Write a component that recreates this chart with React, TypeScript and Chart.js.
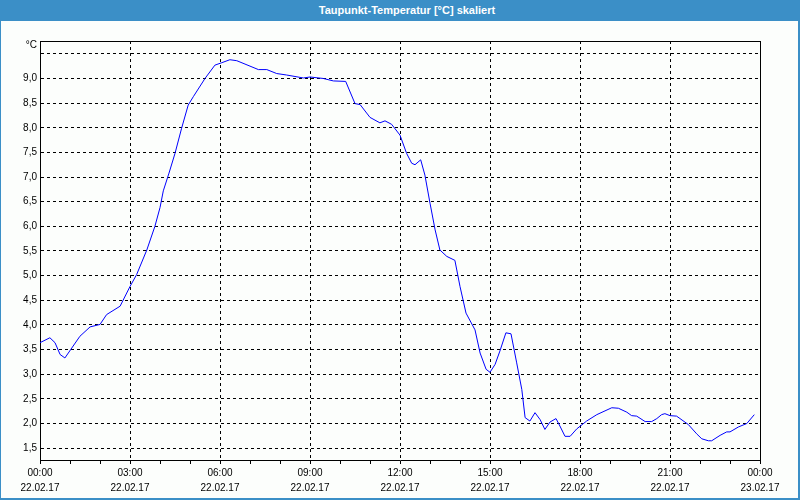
import React, { useEffect, useRef } from "react";
import { Chart, registerables } from "chart.js";

Chart.register(...registerables);

// Time of each reading, in hours since 22.02.17 00:00
const hours = [
  0.0, 0.33, 0.5, 0.67, 0.83, 1.33, 1.67, 2.0, 2.22, 2.67, 3.0, 3.22, 3.56, 3.83, 4.0, 4.11,
  4.3, 4.5, 4.72, 4.94, 5.11, 5.5, 5.83, 6.06, 6.33, 6.56, 7.0, 7.28, 7.56, 7.89, 8.22, 8.78, 9.0,
  9.44, 9.78, 10.19, 10.5, 10.67, 11.0, 11.33, 11.5, 11.72, 12.0, 12.22, 12.39, 12.5, 12.69,
  12.83, 13.0, 13.17, 13.33, 13.56, 13.83, 14.0, 14.2, 14.5, 14.67, 14.87, 15.0, 15.17, 15.33,
  15.53, 15.7, 15.89, 16.06, 16.17, 16.33, 16.5, 16.67, 16.83, 17.0, 17.2, 17.33, 17.5, 17.67,
  17.89, 18.22, 18.56, 19.06, 19.28, 19.56, 19.72, 19.89, 20.17, 20.39, 20.56, 20.72, 20.83,
  21.0, 21.22, 21.61, 21.89, 22.06, 22.28, 22.39, 22.67, 22.89, 23.0, 23.28, 23.56, 23.81,
];

// Dew point temperature in °C
const dewPoint = [
  3.64, 3.74, 3.64, 3.4, 3.33, 3.77, 3.96, 4.01, 4.21, 4.38, 4.78, 5.02, 5.52, 6.0, 6.38, 6.72,
  7.08, 7.48, 7.99, 8.46, 8.63, 9.0, 9.27, 9.32, 9.38, 9.36, 9.25, 9.18, 9.18, 9.1, 9.07, 9.01, 9.03,
  9.0, 8.95, 8.94, 8.49, 8.47, 8.21, 8.1, 8.14, 8.07, 7.85, 7.48, 7.28, 7.25, 7.35,
  7.04, 6.47, 5.93, 5.52, 5.39, 5.31, 4.78, 4.24, 3.9, 3.43, 3.1, 3.04, 3.2, 3.47,
  3.84, 3.82, 3.23, 2.69, 2.12, 2.05, 2.22, 2.08, 1.88, 2.03, 2.1, 1.95, 1.74, 1.74,
  1.89, 2.05, 2.18, 2.32, 2.31, 2.23, 2.16, 2.15, 2.04, 2.04, 2.1, 2.18, 2.2,
  2.16, 2.15, 1.98, 1.79, 1.69, 1.65, 1.65, 1.76, 1.83, 1.83, 1.93, 2.0, 2.18,
];

const yTicks = [1.5, 2.0, 2.5, 3.0, 3.5, 4.0, 4.5, 5.0, 5.5, 6.0, 6.5, 7.0, 7.5, 8.0, 8.5, 9.0, 9.5];
const timeLabels = ["00:00", "03:00", "06:00", "09:00", "12:00", "15:00", "18:00", "21:00", "00:00"];
const dateLabels = ["22.02.17", "22.02.17", "22.02.17", "22.02.17", "22.02.17", "22.02.17", "22.02.17", "22.02.17", "23.02.17"];

const TITLE = "Taupunkt-Temperatur [°C] skaliert";
const UNIT = "°C";
const FONT = "'Liberation Sans', Arial, sans-serif";

export default function App() {
  const ref = useRef<HTMLCanvasElement | null>(null);

  useEffect(() => {
    if (!ref.current) return;
    const frame = {
      id: "frame",
      beforeDraw(chart: any) {
        const c = chart.ctx;
        c.save();
        c.fillStyle = "#fcfefc";
        c.fillRect(0, 0, chart.width, chart.height);
        c.restore();
      },
      afterDraw(chart: any) {
        const c = chart.ctx;
        const a = chart.chartArea;
        c.save();
        c.strokeStyle = "#000";
        c.lineWidth = 1;
        c.setLineDash([]);
        c.beginPath();
        const l = Math.round(a.left) + 0.5;
        const t = Math.round(a.top) + 0.5;
        const r = Math.round(a.right) + 0.5;
        const b = Math.round(a.bottom) + 0.5;
        c.moveTo(l, t);
        c.lineTo(r, t);
        c.lineTo(r, b);
        c.stroke();
        c.fillStyle = "#000";
        c.font = `10px ${FONT}`;
        c.textAlign = "right";
        c.textBaseline = "middle";
        c.fillText(UNIT, a.left - 3, 45);
        c.restore();
      },
    };

    const chart = new Chart(ref.current, {
      type: "line",
      data: {
        datasets: [
          {
            data: hours.map((h, i) => ({ x: h, y: dewPoint[i] })),
            borderColor: "#0000ff",
            borderWidth: 1,
            pointRadius: 0,
            tension: 0,
            fill: false,
          },
        ],
      },
      options: {
        animation: false,
        responsive: false,
        events: [],
        layout: { padding: { top: 41, right: 40, left: 0, bottom: 0 } },
        plugins: { legend: { display: false }, title: { display: false }, tooltip: { enabled: false } },
        scales: {
          x: {
            type: "linear",
            min: 0,
            max: 24,
            afterFit: (s: any) => {
              s.height = 40;
            },
            afterBuildTicks: (s: any) => {
              const t = [];
              for (let h = 0; h <= 24; h++) t.push({ value: h });
              s.ticks = t;
            },
            ticks: {
              autoSkip: false,
              maxRotation: 0,
              minRotation: 0,
              padding: 2,
              color: "#000",
              font: { family: FONT, size: 10, lineHeight: 1.5 },
              callback: (v: any) => {
                const n = Number(v);
                if (n % 3 !== 0) return "";
                const i = n / 3;
                return [timeLabels[i], dateLabels[i]];
              },
            },
            grid: {
              color: (ctx: any) => (ctx.tick && ctx.tick.value % 3 === 0 ? "#000" : "rgba(0,0,0,0)"),
              tickColor: "#000",
              tickLength: 4,
              tickBorderDash: [],
              lineWidth: 1,
            },
            border: { display: true, color: "#000", width: 1, dash: [3, 3] },
          },
          y: {
            type: "linear",
            min: 1.26,
            max: 9.76,
            afterFit: (s: any) => {
              s.width = 40;
            },
            afterBuildTicks: (s: any) => {
              s.ticks = yTicks.map((v) => ({ value: v }));
            },
            ticks: {
              padding: 3,
              color: "#000",
              font: { family: FONT, size: 10 },
              callback: (v: any) => (Number(v) === 9.5 ? "" : Number(v).toFixed(1).replace(".", ",")),
            },
            grid: {
              color: "#000",
              drawTicks: false,
              tickLength: 0,
              lineWidth: 1,
            },
            border: { display: true, color: "#000", width: 1, dash: [3, 3] },
          },
        },
      },
      plugins: [frame],
    } as any);
    return () => chart.destroy();
  }, []);

  return (
    <div style={{ position: "absolute", left: 0, top: 0, width: 800, height: 500, background: "#fcfefc" }}>
      <canvas ref={ref} width={800} height={500} style={{ position: "absolute", left: 0, top: 0, width: 800, height: 500 }} />
      <div
        style={{
          position: "absolute",
          left: 0,
          top: 0,
          width: 800,
          height: 21,
          background: "#3b8fc7",
          color: "#fff",
          fontFamily: FONT,
          fontWeight: "bold",
          fontSize: 11,
          lineHeight: "21px",
          textAlign: "center",
          boxSizing: "border-box",
          paddingLeft: 14,
        }}
      >
        {TITLE}
      </div>
      <div
        style={{
          position: "absolute",
          left: 0,
          top: 0,
          width: 800,
          height: 500,
          boxSizing: "border-box",
          borderLeft: "1px solid #3b8fc7",
          borderRight: "2px solid #3b8fc7",
          borderBottom: "2px solid #3b8fc7",
          pointerEvents: "none",
        }}
      />
    </div>
  );
}
